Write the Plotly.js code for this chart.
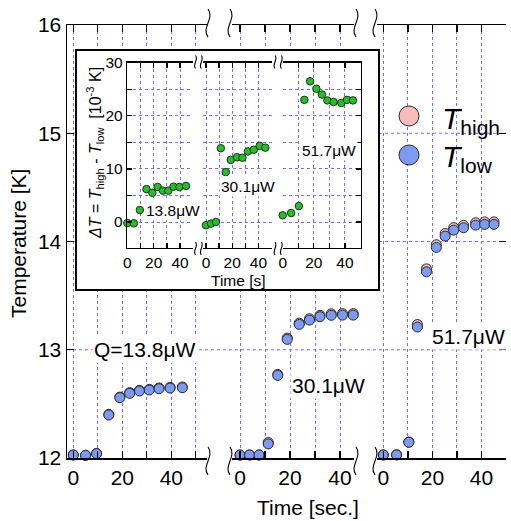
<!DOCTYPE html>
<html><head><meta charset="utf-8">
<script src="https://cdn.plot.ly/plotly-3.0.1.min.js"></script>
<style>html,body{margin:0;padding:0;background:#fff}#chart{width:511px;height:521px}</style>
</head><body><div id="chart"></div>
<script>
// ---- data: main panels (Temperature [K] vs Time [sec.]) ----
const time1 = [0, 5, 9.5, 14.5, 19, 23, 27, 31, 35, 39.5, 44.5];
const tLow1 = [12.028, 12.025, 12.040, 12.397, 12.557, 12.597, 12.619, 12.628, 12.640, 12.646, 12.649];
const tHigh1 = [12.028, 12.025, 12.042, 12.403, 12.563, 12.604, 12.625, 12.634, 12.647, 12.653, 12.656];

const time2 = [0, 3.8, 7.6, 11.3, 15.1, 18.9, 23.7, 27.8, 32, 36.5, 41, 45.3];
const tLow2 = [12.028, 12.028, 12.028, 12.130, 12.763, 13.096, 13.234, 13.274, 13.305, 13.318, 13.320, 13.320];
const tHigh2 = [12.027, 12.028, 12.028, 12.144, 12.772, 13.108, 13.246, 13.286, 13.318, 13.332, 13.334, 13.334];

const time3 = [0, 5.4, 10.4, 13.9, 17.6, 21.6, 25.2, 28.7, 32.7, 37.6, 41.3, 45.1];
const tLow3 = [12.028, 12.028, 12.145, 13.210, 13.720, 13.945, 14.050, 14.105, 14.127, 14.151, 14.158, 14.158];
const tHigh3 = [12.029, 12.030, 12.148, 13.233, 13.747, 13.970, 14.074, 14.128, 14.150, 14.173, 14.181, 14.181];

// ---- data: inset (ΔT [10^-3 K] vs Time [s]) ----
const dT1 = [-0.19, -0.25, 2.26, 6.2, 5.5, 6.6, 5.9, 5.9, 6.65, 6.6, 6.8];
const dT2 = [-0.6, -0.3, 0.0, 13.9, 9.4, 11.7, 12.2, 12.1, 13.3, 13.6, 14.35, 14.0];
const dT3 = [1.26, 1.7, 3.0, 23.0, 26.5, 25.1, 24.0, 22.9, 22.6, 22.4, 23.0, 22.9];

const powerLabels = ['Q=13.8\u03bcW', '30.1\u03bcW', '51.7\u03bcW'];
const insetPowerLabels = ['13.8\u03bcW', '30.1\u03bcW', '51.7\u03bcW'];
const mainYTicks = [12, 13, 14, 15, 16];
const gridTemps = [13, 14, 15];

// ---- styling ----
const FONT = 'Liberation Sans, Arial, Helvetica, sans-serif';
const PINK = '#f9bcbc', BLUE = '#7b9bf5', GREEN = '#1fc41f', EDGE = '#2a2a2a';
const GRID = 'rgb(110,110,255)';
const L = 67, R = 5, T = 25, B = 63, W = 511 - L - R, H = 521 - T - B;
const px = v => (v - L) / W;
const pY = v => (T + H - v) / H;

function tr(x, y, xa, ya, color, size) {
  return {type: 'scatter', mode: 'markers', x: x, y: y, xaxis: xa, yaxis: ya,
    cliponaxis: false, hoverinfo: 'skip',
    marker: {size: size, color: color, line: {color: EDGE, width: 1}}};
}
const data = [
  tr(time1, tHigh1, 'x', 'y', PINK, 10), tr(time1, tLow1, 'x', 'y', BLUE, 10),
  tr(time2, tHigh2, 'x2', 'y', PINK, 10), tr(time2, tLow2, 'x2', 'y', BLUE, 10),
  tr(time3, tHigh3, 'x3', 'y2', PINK, 10), tr(time3, tLow3, 'x3', 'y2', BLUE, 10),
  {type: 'scatter', x: [], y: [], xaxis: 'x4', yaxis: 'y3', hoverinfo: 'skip'},
  tr(time1, dT1, 'x5', 'y4', GREEN, 7.5),
  tr(time2, dT2, 'x6', 'y4', GREEN, 7.5),
  tr(time3, dT3, 'x7', 'y5', GREEN, 7.5)
];

function xAx(dom, rng, anchor, len, fs) {
  return {domain: dom, range: rng, anchor: anchor, showline: true, linewidth: 1.5, linecolor: '#000',
    mirror: 'ticks', ticks: 'inside', ticklen: len, tickwidth: 1.3, tickcolor: '#000',
    tickmode: 'linear', tick0: 0, dtick: 20,
    minor: {tickmode: 'linear', tick0: 0, dtick: 10, ticks: 'inside', ticklen: len, tickwidth: 1.3, tickcolor: '#000',
      showgrid: true, gridcolor: GRID, griddash: 'dot', gridwidth: 1},
    showgrid: true, gridcolor: GRID, griddash: 'dot', gridwidth: 1, zeroline: false,
    tickfont: {size: fs, color: '#000'}, fixedrange: true};
}
const insetYDom = [pY(247.5), pY(62.7)];
const insetYRange = [-4.8, 30];
function insetY(anchor, side, labels) {
  return {domain: insetYDom, range: insetYRange, anchor: anchor, side: side, showline: true, linewidth: 1.5,
    linecolor: '#000', ticks: 'inside', ticklen: 5, tickwidth: 1.2, tickcolor: '#000',
    tickmode: 'linear', tick0: 0, dtick: 10, showticklabels: labels,
    minor: {tickmode: 'linear', tick0: 0, dtick: 5, ticks: 'inside', ticklen: 5, tickwidth: 1.2, tickcolor: '#000',
      showgrid: true, gridcolor: GRID, griddash: 'dot', gridwidth: 1},
    showgrid: true, gridcolor: GRID, griddash: 'dot', gridwidth: 1, zeroline: false,
    tickfont: {size: 15.5, color: '#000'}, fixedrange: true};
}

function brk(xp, yp, h, w) {
  return {type: 'path', layer: 'above', xref: 'paper', yref: 'paper',
    xsizemode: 'pixel', ysizemode: 'pixel', xanchor: xp, yanchor: yp,
    path: `M 0 ${h/2} C ${w} ${h/6} ${-w} ${-h/6} 0 ${-h/2}`,
    line: {color: '#000', width: 1.1}};
}
const shapes = [];
gridTemps.forEach(v => shapes.push({type: 'line', layer: 'below', xref: 'paper', yref: 'y',
  x0: 0, x1: 1, y0: v, y1: v, line: {color: GRID, width: 1, dash: 'dot'}}));
[208, 230, 356, 375].forEach(x => { shapes.push(brk(px(x), pY(461), 28, 7)); shapes.push(brk(px(x), pY(23), 28, 7)); });
[195.5, 201.3, 275, 281.3].forEach(x => { shapes.push(brk(px(x), pY(248.5), 13, 3.5)); shapes.push(brk(px(x), pY(62), 13, 3.5)); });
// legend symbols
[[116, PINK], [155, BLUE]].forEach(([y, c]) => shapes.push({type: 'circle', layer: 'above', xref: 'paper', yref: 'paper',
  xsizemode: 'pixel', ysizemode: 'pixel', xanchor: px(409), yanchor: pY(y), x0: -10, x1: 10, y0: -10, y1: 10,
  fillcolor: c, line: {color: EDGE, width: 1}}));

function ann(text, x, y, xref, yref, size, extra) {
  return Object.assign({text: text, x: x, y: y, xref: xref, yref: yref, showarrow: false,
    font: {size: size, color: '#000', family: FONT}, xanchor: 'center', yanchor: 'middle'}, extra || {});
}
const annotations = [
  ann(powerLabels[0], 29.1, 13.0, 'x', 'y', 21, {bgcolor: '#fff'}),
  ann(powerLabels[1], 35.2, 12.674, 'x2', 'y', 21, {bgcolor: '#fff'}),
  ann(powerLabels[2], 34.9, 13.118, 'x3', 'y2', 21, {bgcolor: '#fff'}),
  ann(insetPowerLabels[0], 34.6, 2.2, 'x5', 'y4', 15.5, {bgcolor: '#fff'}),
  ann(insetPowerLabels[1], 32.3, 6.6, 'x6', 'y4', 15.5, {bgcolor: '#fff'}),
  ann(insetPowerLabels[2], 29.8, 13.5, 'x7', 'y5', 15.5, {bgcolor: '#fff'}),
  ann('Temperature [K]', px(18), pY(244), 'paper', 'paper', 21, {textangle: -90}),
  ann('Time [sec.]', px(307.7), pY(508), 'paper', 'paper', 21),
  ann('Time [s]', px(238), pY(280.7), 'paper', 'paper', 15.5),
  ann('<i>\u0394T</i> = <i>T</i><sub>high</sub> - <i>T</i><sub>low</sub>\u00a0\u00a0[10<sup>-3</sup> K]', px(95), pY(153), 'paper', 'paper', 16, {textangle: -90}),
  ann('<i>T</i><sub>high</sub>', px(440), pY(120), 'paper', 'paper', 30, {xanchor: 'left'}),
  ann('<i>T</i><sub>low</sub>', px(440), pY(159), 'paper', 'paper', 30, {xanchor: 'left'})
];

const layout = {
  width: 511, height: 521, margin: {l: L, r: R, t: T, b: B}, showlegend: false,
  paper_bgcolor: '#fff', plot_bgcolor: '#fff', font: {family: FONT, color: '#000'},
  xaxis: xAx([0, px(207)], [-2.57, 54.57], 'y', 7, 21),
  xaxis2: xAx([px(232), px(354)], [-3.2, 45.6], 'y', 7, 21),
  xaxis3: xAx([px(377), 1], [-2.57, 50], 'y2', 7, 21),
  yaxis: {domain: [0, 1], range: [12, 16], anchor: 'x', showline: true, linewidth: 1.5, linecolor: '#000',
    ticks: 'inside', ticklen: 7, tickwidth: 1.3, tickcolor: '#000', tickmode: 'array', tickvals: mainYTicks,
    showgrid: false, zeroline: false, tickfont: {size: 21, color: '#000'}, fixedrange: true},
  yaxis2: {domain: [0, 1], range: [12, 16], anchor: 'x3', side: 'right', showline: false,
    ticks: 'inside', ticklen: 7, tickwidth: 1.3, tickcolor: '#000', tickmode: 'array', tickvals: mainYTicks,
    showticklabels: false, showgrid: false, zeroline: false, fixedrange: true},
  xaxis4: {domain: [px(77), px(378)], range: [0, 1], anchor: 'y3', showline: true, mirror: true, linewidth: 2,
    linecolor: '#000', ticks: '', showticklabels: false, showgrid: false, zeroline: false, fixedrange: true},
  yaxis3: {domain: [pY(289), pY(51)], range: [0, 1], anchor: 'x4', showline: true, mirror: true, linewidth: 2,
    linecolor: '#000', ticks: '', showticklabels: false, showgrid: false, zeroline: false, fixedrange: true},
  xaxis5: xAx([px(127.3), px(193.3)], [0, 50], 'y4', 5, 15.5),
  xaxis6: xAx([px(203.3), px(272)], [-2.06, 50.4], 'y4', 5, 15.5),
  xaxis7: xAx([px(282.7), px(360.7)], [0, 50.1], 'y5', 5, 15.5),
  yaxis4: insetY('x5', 'left', true),
  yaxis5: insetY('x7', 'right', false),
  shapes: shapes, annotations: annotations
};
Plotly.newPlot('chart', data, layout, {displayModeBar: false, staticPlot: true});
</script></body></html>
